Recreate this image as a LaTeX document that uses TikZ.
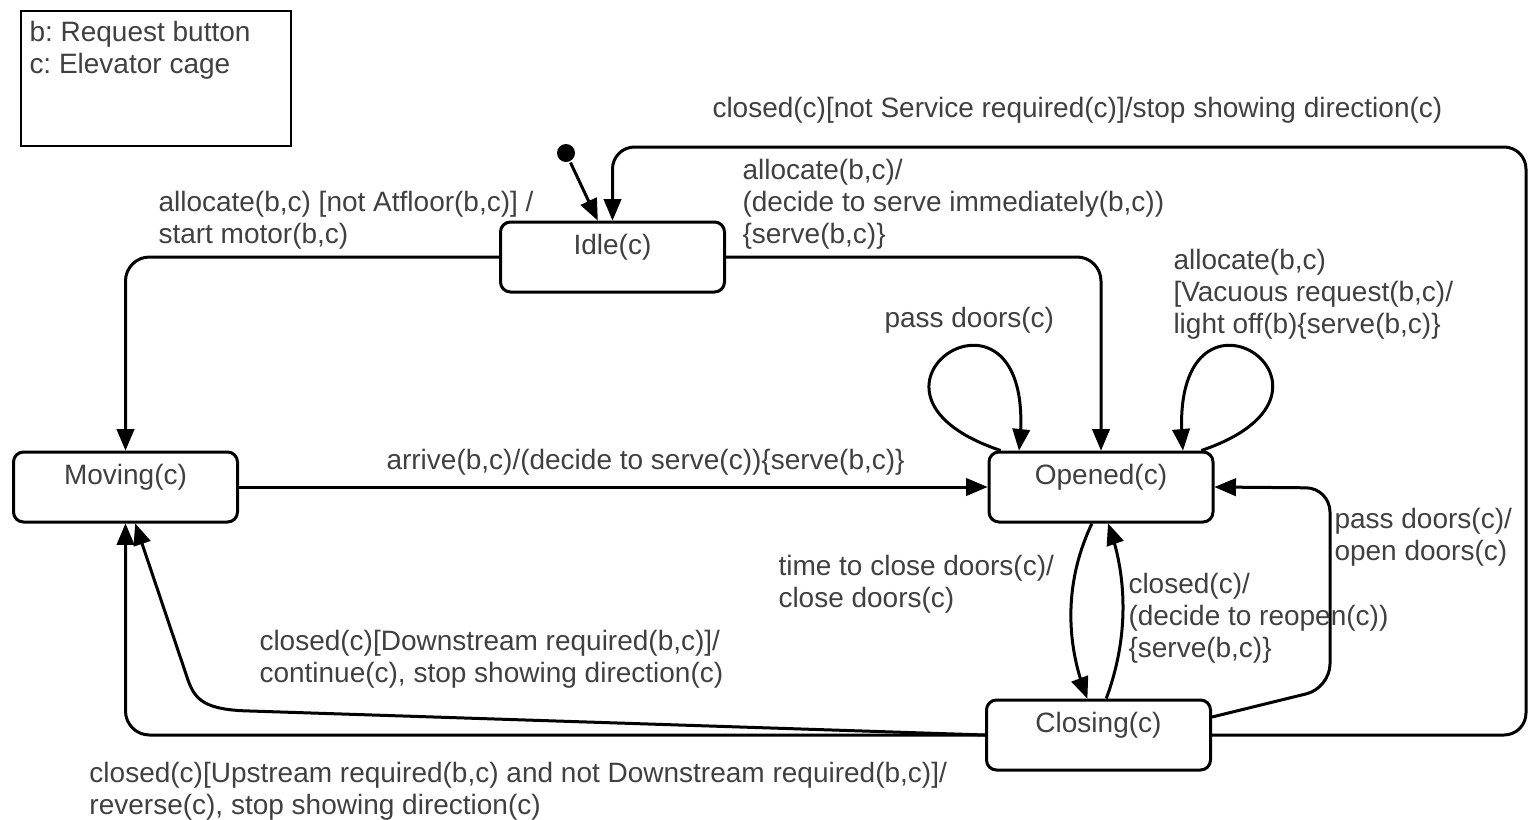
\documentclass[tikz,border=0pt]{standalone}
\usepackage{fontspec}
\setmainfont{Liberation Sans}
\usetikzlibrary{arrows}
\frenchspacing

\tikzset{
  state/.style={draw,rounded corners=5pt,minimum width=112pt,text height=16pt,text depth=19pt,inner sep=0pt,text=black!75},
  lbl/.style={anchor=north west,inner sep=0pt,align=left,text=black!75},
  arr/.style={-triangle 45},
}

\begin{document}
\begin{tikzpicture}[x=0.5pt,y=-0.5pt,line width=1.5pt,font=\fontsize{14}{16}\selectfont]
      \useasboundingbox (0,0) rectangle (1528,820);

      % legend
      \node [draw,line width=1pt,anchor=north west,minimum width=135pt,minimum height=67.5pt,inner sep=0pt] (legend) at (20,10) {};
      \node [lbl] (key) at (28,20) {b: Request button\\c: Elevator cage};

      % states
      \node [state] (idle) at (612.5,257) {Idle(c)};
      \node [state] (moving) at (125.5,487) {Moving(c)};
      \node [state] (opened) at (1101,487) {Opened(c)};
      \node [state] (closing) at (1098.5,735) {Closing(c)};
      \node [fill,circle,inner sep=0pt,minimum size=9pt] (init) at (566,153) {};

      % transitions
      \draw [arr] (init) -- (idle.112);
      \draw [arr,rounded corners=12pt] (idle.west) -| (moving.north);
      \draw [arr,rounded corners=12pt] (idle.east) -| (opened.north);
      \draw [arr,rounded corners=11pt] (closing.east) -- (1526,735) -- (1526,147) -- (612.5,147) -- (idle.north);
      \draw [arr] (moving.east) -- (opened.west);
      \draw [arr] (opened.160) .. controls (820,390) and (1040,250) .. (opened.156);
      \draw [arr] (opened.20) .. controls (1380,390) and (1165,250) .. (opened.24);
      \draw [arr] (opened.256) .. controls (1065,580) and (1065,640) .. (closing.107);
      \draw [arr] (closing.78) .. controls (1128,640) and (1128,580) .. (opened.281);
      \draw [arr,rounded corners=12pt] (closing.9) -- (1330,688) -- (1330,488) -- (opened.east);
      \draw [arr] (closing.west) -- (250,711) .. controls (205,710) and (195,700) .. (188,680) -- (moving.285);
      \draw [arr,rounded corners=12pt] (closing.west) -| (moving.south);

      % labels
      \node [lbl] (l1) at (711,96) {closed(c)[not Service required(c)]/stop showing direction(c)};
      \node [lbl] (l2) at (741,158) {allocate(b,c)/\\(decide to serve immediately(b,c))\\\{serve(b,c)\}};
      \node [lbl] (l3) at (157,190) {allocate(b,c) [not Atfloor(b,c)] /\\start motor(b,c)};
      \node [lbl] (l4) at (1172,248) {allocate(b,c)\\{}[Vacuous request(b,c)/\\light off(b)\{serve(b,c)\}};
      \node [lbl] (l5) at (883,306) {pass doors(c)};
      \node [lbl] (l6) at (385,448) {arrive(b,c)/(decide to serve(c))\{serve(b,c)\}};
      \node [lbl] (l7) at (1333,507) {pass doors(c)/\\open doors(c)};
      \node [lbl] (l8) at (777,554) {time to close doors(c)/\\close doors(c)};
      \node [lbl] (l9) at (1127,572) {closed(c)/\\(decide to reopen(c))\\\{serve(b,c)\}};
      \node [lbl] (l10) at (258,629) {closed(c)[Downstream required(b,c)]/\\continue(c), stop showing direction(c)};
      \node [lbl] (l11) at (88,761) {closed(c)[Upstream required(b,c) and not Downstream required(b,c)]/\\reverse(c), stop showing direction(c)};
    \end{tikzpicture}
\end{document}
